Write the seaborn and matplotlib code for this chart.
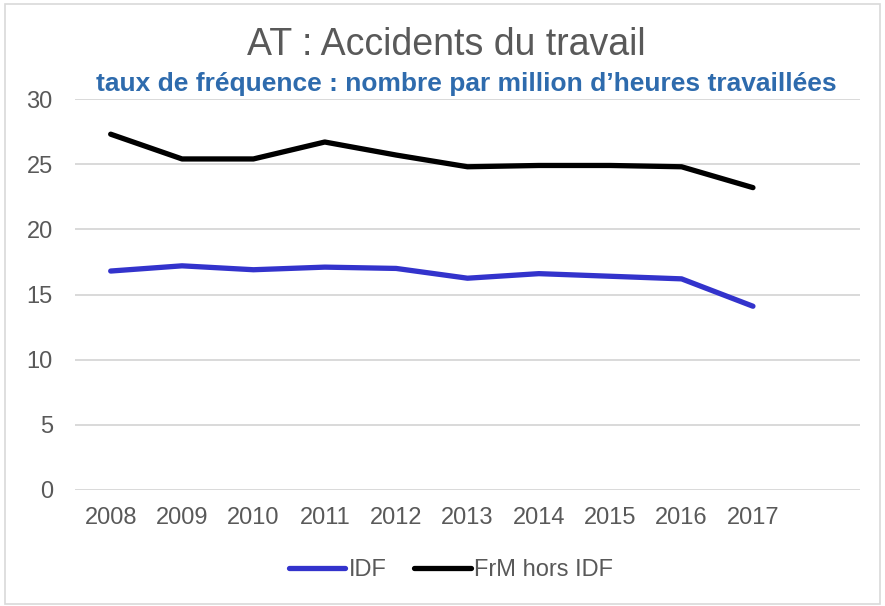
import matplotlib
matplotlib.use("Agg")
import matplotlib.pyplot as plt
from matplotlib.patches import Rectangle
import seaborn as sns
import pandas as pd

# data
years = ["2008", "2009", "2010", "2011", "2012", "2013", "2014", "2015", "2016", "2017"]
idf = [16.8, 17.2, 16.9, 17.1, 17.0, 16.25, 16.6, 16.4, 16.2, 14.1]
frm_hors_idf = [27.3, 25.4, 25.4, 26.7, 25.7, 24.8, 24.9, 24.9, 24.8, 23.2]
series_names = ["IDF", "FrM hors IDF"]
colors = ["#3333CC", "#000000"]

df = pd.DataFrame({
    "annee": years * 2,
    "taux": idf + frm_hors_idf,
    "serie": [series_names[0]] * len(years) + [series_names[1]] * len(years),
})
df["x"] = df["annee"].map({y: i for i, y in enumerate(years)})

sns.set_style("white")
plt.rcParams["font.family"] = ["Liberation Sans", "DejaVu Sans"]

fig = plt.figure(figsize=(8.85, 6.06), dpi=100)
ax = fig.add_axes([75 / 885, 1 - 490 / 606, (860 - 75) / 885, (490 - 99) / 606])

sns.lineplot(data=df, x="x", y="taux", hue="serie", palette=colors,
             hue_order=series_names, linewidth=3.8, ax=ax, legend=False,
             solid_capstyle="round")

ax.set_xlim(-0.5, len(years) + 0.5)
ax.set_ylim(0, 30)
ax.set_yticks(range(0, 31, 5))
ax.set_xticks(range(len(years)))
ax.set_xticklabels(years)
ax.grid(axis="y", color="#D9D9D9", linewidth=1.4)
ax.set_axisbelow(True)
for s in ax.spines.values():
    s.set_visible(False)
ax.tick_params(axis="both", length=0, labelsize=17, labelcolor="#595959")
ax.tick_params(axis="x", pad=12)
ax.tick_params(axis="y", pad=16)
ax.set_xlabel("")
ax.set_ylabel("")

fig.text(446 / 885, 1 - 45 / 606, "AT : Accidents du travail", ha="center",
         va="center", fontsize=27, color="#595959")
fig.text(466 / 885, 1 - 84 / 606,
         "taux de fréquence : nombre par million d\u2019heures travaillées",
         ha="center", va="center", fontsize=19, fontweight="bold", color="#2E6BAD")

handles = [plt.Line2D([], [], color=c, linewidth=3.8, solid_capstyle="round") for c in colors]
fig.legend(handles, series_names, loc="center", bbox_to_anchor=(451 / 885, 1 - 570 / 606),
           ncol=2, frameon=False, fontsize=17, handlelength=2.4, handletextpad=0.15,
           columnspacing=1.15, labelcolor="#595959")

fig.patches.append(Rectangle((5 / 885, 2 / 606), 875 / 885, 600 / 606,
                             transform=fig.transFigure, fill=False,
                             edgecolor="#D9D9D9", linewidth=1.2))

fig.savefig("out.png", dpi=100)
